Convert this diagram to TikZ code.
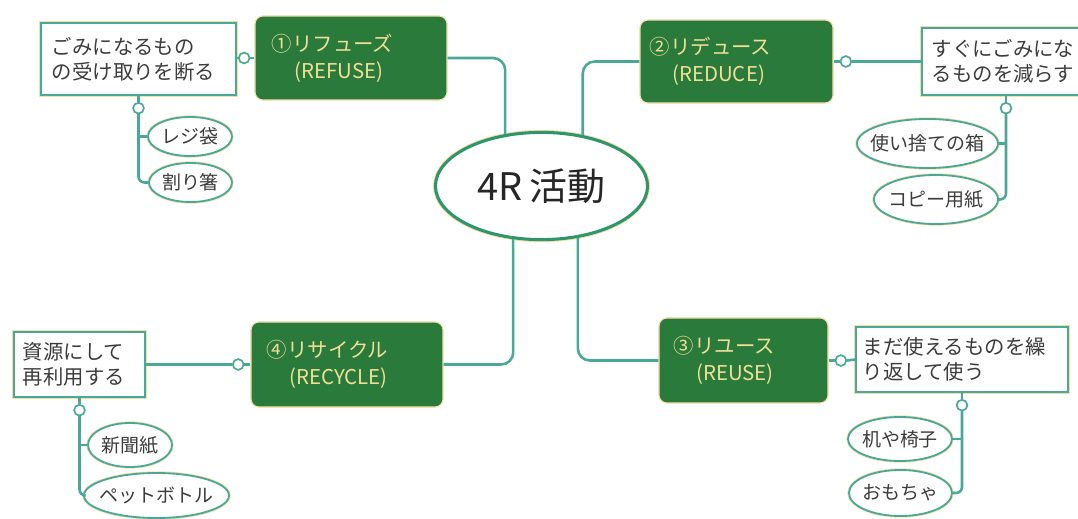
\documentclass[tikz,border=0pt]{standalone}
\usepackage{fontspec}
\setmainfont{Noto Sans CJK JP}
\usetikzlibrary{positioning,shapes.geometric}

\definecolor{linkteal}{RGB}{74,168,150}
\definecolor{hubgreen}{RGB}{46,150,108}
\definecolor{stagegreen}{RGB}{42,122,60}
\definecolor{stagetext}{RGB}{240,224,150}
\definecolor{fringe}{RGB}{246,222,170}
\definecolor{inktext}{RGB}{60,60,60}

\newcommand{\nowidth}[1]{\makebox[0pt]{#1}}

\begin{document}
\begin{tikzpicture}[x=0.025cm, y=-0.025cm,
  link/.style={draw=linkteal, line width=1.8pt, rounded corners=0.3cm},
  hub/.style={ellipse, fill=white, draw=hubgreen, line width=2.2pt,
    preaction={draw=fringe, line width=3.6pt},
    minimum width=5.3cm, minimum height=2.68cm,
    font=\fontsize{27}{30}\selectfont, text=black!85},
  stage/.style={rectangle, rounded corners=0.2cm, fill=stagegreen, draw=fringe,
    line width=0.8pt, text=stagetext, align=left,
    font=\fontsize{14.5}{19}\selectfont},
  note/.style={rectangle, fill=white, draw=linkteal, line width=1.3pt,
    preaction={draw=fringe, line width=2.4pt}, align=left, text=inktext,
    inner ysep=2pt, font=\fontsize{14.5}{18}\selectfont},
  leaf/.style={ellipse, fill=white, draw=linkteal, line width=1.3pt,
    preaction={draw=fringe, line width=2.4pt}, inner sep=0pt, text=inktext,
    font=\fontsize{13.5}{16}\selectfont},
  dot/.style={circle, fill=white, draw=linkteal, line width=1.2pt,
    minimum size=0.27cm, inner sep=0pt}]
\useasboundingbox (0,0) rectangle (1078,519);
\clip (0,0) rectangle (1078,519);

% centre and the four R
\node[hub] (hub) at (541.5,186) {4R\,活動};
\node[stage, text width=3.95cm, inner xsep=0.425cm, minimum height=2.1cm] (refuse) at (351,58)
  {①リフューズ\\\hspace*{1.1em}(REFUSE)};
\node[stage, text width=4.325cm, inner xsep=0.25cm, minimum height=2.075cm] (reduce) at (736.5,61.5)
  {②リデュース\\\hspace*{1.1em}(REDUCE)};
\node[stage, text width=3.475cm, inner xsep=0.375cm, minimum height=2.125cm] (reuse) at (743.5,360.5)
  {③リユース\\\hspace*{1.1em}(REUSE)};
\node[stage, text width=4.0cm, inner xsep=0.4cm, minimum height=2.125cm] (recycle) at (347,364.5)
  {④リサイクル\\\hspace*{1.1em}(RECYCLE)};

\draw[link] (refuse.east) -| (hub.125);
\draw[link] (reduce.west) -| (hub.51);
\draw[link] (hub.242) |- (recycle.east);
\draw[link] (hub.305) |- (reuse.west);

% notes
\node[note, text width=4.325cm, inner xsep=0.275cm, minimum height=1.8cm] (refusenote) at (138.5,59)
  {ごみになるもの\\の受け取りを断る};
\node[note, text width=3.7cm, inner xsep=0.25cm, minimum height=1.675cm] (reducenote) at (1006,61.5)
  {すぐにごみにな\\るものを減らす};
\node[note, text width=4.95cm, inner xsep=0.175cm, minimum height=1.625cm] (reusenote) at (962,359.5)
  {まだ使えるものを繰\\り返して使う};
\node[note, text width=2.825cm, inner xsep=0.225cm, minimum height=1.625cm] (recyclenote) at (79.5,364.5)
  {資源にして\\再利用する};

\node[dot, left=0.1cm of refuse] (refusedot) {};
\node[dot, right=0.15cm of reduce] (reducedot) {};
\node[dot, right=0.15cm of reuse] (reusedot) {};
\node[dot, left=0.15cm of recycle] (recycledot) {};
\node[dot, below=0.15cm of refusenote] (refusedotb) {};
\node[dot, below=0.15cm of reducenote] (reducedotb) {};
\node[dot, below=0.15cm of reusenote] (reusedotb) {};
\node[dot, below=0.15cm of recyclenote] (recycledotb) {};

\draw[link] (refusenote.east |- refusedot) -- (refusedot.west);
\draw[link] (refusedot.east) -- (refuse.west |- refusedot);
\draw[link] (reduce.east) -- (reducedot.west);
\draw[link] (reducedot.east) -- (reducenote.west);
\draw[link] (reuse.east) -- (reusedot.west);
\draw[link] (reusedot.east) -- (reusenote.west);
\draw[link] (recycle.west) -- (recycledot.east);
\draw[link] (recycledot.west) -- (recyclenote.east |- recycledot);

% examples
\node[leaf, minimum width=2.1cm, minimum height=0.975cm] (bag) at (190,136.5) {\nowidth{レジ袋}};
\node[leaf, minimum width=2.075cm, minimum height=0.975cm] (chopsticks) at (190.5,182.5) {\nowidth{割り箸}};
\node[leaf, minimum width=3.525cm, minimum height=1.225cm] (boxes) at (927.5,143.5) {\nowidth{使い捨ての箱}};
\node[leaf, minimum width=3.1cm, minimum height=1.225cm] (copypaper) at (936,199.5) {\nowidth{コピー用紙}};
\node[leaf, minimum width=2.6cm, minimum height=1.1cm] (desk) at (900,439) {\nowidth{机や椅子}};
\node[leaf, minimum width=2.575cm, minimum height=1.15cm] (toys) at (900.5,493) {\nowidth{おもちゃ}};
\node[leaf, minimum width=2.1cm, minimum height=1.1cm] (newspaper) at (130,445) {\nowidth{新聞紙}};
\node[leaf, minimum width=3.625cm, minimum height=1.125cm] (bottle) at (156.5,495.5) {\nowidth{ペットボトル}};

\draw[link] (refusenote.south) -- (refusedotb);
\draw[link, sharp corners] (refusedotb.south) |- (bag.west);
\draw[link, rounded corners=0.15cm] (refusedotb.south) |- (chopsticks.west);
\draw[link] (reducenote.south) -- (reducedotb);
\draw[link, sharp corners] (reducedotb.south) |- (boxes.east);
\draw[link, rounded corners=0.15cm] (reducedotb.south) |- (copypaper.east);
\draw[link] (reusenote.south) -- (reusedotb);
\draw[link, sharp corners] (reusedotb.south) |- (desk.east);
\draw[link, rounded corners=0.15cm] (reusedotb.south) |- (toys.east);
\draw[link] (recyclenote.south) -- (recycledotb);
\draw[link, sharp corners] (recycledotb.south) |- (newspaper.west);
\draw[link, rounded corners=0.15cm] (recycledotb.south) |- (bottle.west);
\end{tikzpicture}
\end{document}
